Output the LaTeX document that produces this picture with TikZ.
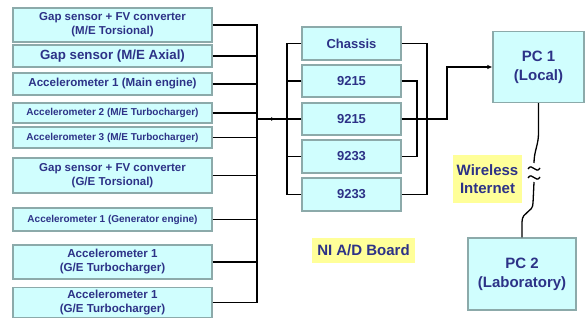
\documentclass[tikz,border=0pt]{standalone}
\usepackage{fontspec}
\setmainfont{Liberation Sans}
\usetikzlibrary{arrows.meta}

\definecolor{boxfill}{RGB}{208,254,254}
\definecolor{boxline}{RGB}{140,170,170}
\definecolor{navytext}{RGB}{45,50,135}
\definecolor{notefill}{RGB}{255,255,153}

\begin{document}
\begin{tikzpicture}[x=1pt,y=-1pt,
  sensorbox/.style={draw=boxline,fill=boxfill,line width=1.2pt,minimum width=199pt,
    inner sep=0pt,align=center,text=navytext},
  boardbox/.style={sensorbox,minimum width=99pt,minimum height=32pt,
    font=\bfseries\fontsize{13}{15}\selectfont},
  pcbox/.style={sensorbox,minimum height=71pt,font=\bfseries\fontsize{15}{19}\selectfont},
  notelabel/.style={fill=notefill,text=navytext,inner sep=0pt,align=center,
    font=\bfseries\fontsize{15}{18}\selectfont},
  wire/.style={line width=1.6pt,black},
  radio/.style={line width=1.3pt,black}]
  \useasboundingbox (0,0) rectangle (585,324);

  % sensors
  \node[sensorbox,minimum height=34pt,font=\bfseries\fontsize{11.5}{14}\selectfont] (s1) at (112.5,25) {Gap sensor + FV converter\\(M/E Torsional)};
  \node[sensorbox,minimum height=22pt,font=\bfseries\fontsize{13.3}{15}\selectfont] (s2) at (112.5,56) {Gap sensor (M/E Axial)};
  \node[sensorbox,minimum height=22pt,font=\bfseries\fontsize{11.6}{14}\selectfont] (s3) at (112.5,84) {Accelerometer 1 (Main engine)};
  \node[sensorbox,minimum height=20pt,font=\bfseries\fontsize{10}{12}\selectfont] (s4) at (112.5,113) {Accelerometer 2 (M/E Turbocharger)};
  \node[sensorbox,minimum height=21pt,font=\bfseries\fontsize{10}{12}\selectfont] (s5) at (112.5,137.5) {Accelerometer 3 (M/E Turbocharger)};
  \node[sensorbox,minimum height=35pt,font=\bfseries\fontsize{11.5}{14}\selectfont] (s6) at (112.5,175.5) {Gap sensor + FV converter\\(G/E Torsional)};
  \node[sensorbox,minimum height=23pt,font=\bfseries\fontsize{10}{12}\selectfont] (s7) at (112.5,219.5) {Accelerometer 1 (Generator engine)};
  \node[sensorbox,minimum height=34pt,font=\bfseries\fontsize{11.6}{14}\selectfont] (s8) at (112.5,262) {Accelerometer 1\\(G/E Turbocharger)};
  \node[sensorbox,minimum height=30pt,font=\bfseries\fontsize{11.6}{14}\selectfont] (s9) at (112.5,302.5) {Accelerometer 1\\(G/E Turbocharger)};

  % NI A/D board modules
  \node[boardbox,minimum height=33pt] (m1) at (351.5,43.5) {Chassis};
  \node[boardbox] (m2) at (351.5,81) {9215};
  \node[boardbox] (m3) at (351.5,119) {9215};
  \node[boardbox,minimum height=33pt] (m4) at (351.5,156.5) {9233};
  \node[boardbox,minimum height=33pt] (m5) at (351.5,194.5) {9233};
  \node[notelabel,minimum width=103pt,minimum height=25pt] (board) at (363.5,250.5) {NI A/D Board};

  % computers
  \node[pcbox,minimum width=91pt] (pc1) at (538.5,67) {PC 1\\(Local)};
  \node[pcbox,minimum width=108pt,minimum height=72pt] (pc2) at (522,274) {PC 2\\(Laboratory)};
  \node[notelabel,minimum width=69pt,minimum height=48pt] (wlabel) at (487.5,179) {Wireless\\Internet};

  % sensor bus
  \coordinate (busL) at (257,118);
  \coordinate (busM) at (287,119);
  \coordinate (tipL) at (275,119);
  \foreach \n in {1,...,9}
    \draw[wire] (s\n.east) -- (s\n.east -| busL);
  \draw[wire,line cap=rect] (s1.east -| busL) -- (s9.east -| busL);
  \draw[wire] (busL |- m3.west) -- (m3.west);
  \draw[wire,-{Latex[length=4pt,width=4pt]}] (busL |- m3.west) -- (tipL);

  % board bus
  \foreach \n in {1,...,5}
    \draw[wire] (m\n.west) -- (m\n.west -| busM);
  \draw[wire,line cap=rect] (m1.west -| busM) -- (m5.west -| busM);

  \coordinate (busO) at (427,0);
  \coordinate (busI) at (417,0);
  \coordinate (turn) at (447,119);
  \draw[wire,line join=miter] (m1.east) -- (m1.east -| busO) -- (m5.east -| busO) -- (m5.east);
  \draw[wire,line join=miter] (m2.east) -- (m2.east -| busI) -- (m4.east -| busI) -- (m4.east);
  \draw[wire,line join=miter,-{Latex[length=5pt,width=4.5pt]}] (m3.east) -- (m3.east -| turn) |- (pc1.west);

  % wireless link
  \coordinate (brkT) at (534,163);
  \coordinate (brkB) at (534,182);
  \draw[radio] (pc1.south) -- ++(0,30) .. controls +(0,12) and +(0,-12) .. (brkT);
  \draw[radio] (528,169) .. controls (532,162) and (536,175) .. (540,168);
  \draw[radio] (528,178) .. controls (532,171) and (536,184) .. (540,177);
  \draw[radio] (brkB) -- (533,203) .. controls (533,213) and (522,211) .. (522,222) -- (pc2.north);
\end{tikzpicture}
\end{document}
